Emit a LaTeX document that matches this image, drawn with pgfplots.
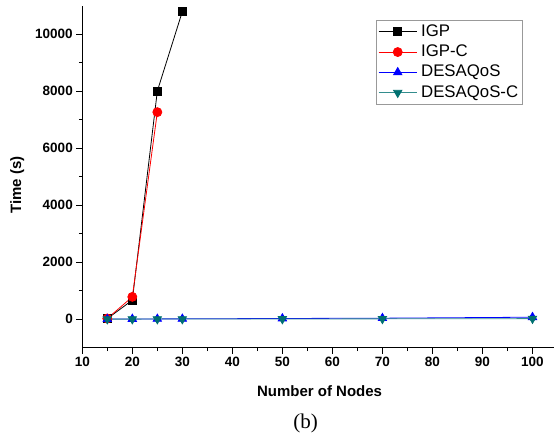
\documentclass[border=0pt]{standalone}
\usepackage{fontspec}
\setmainfont{Liberation Sans}
\newfontfamily\capfont{Liberation Serif}
\usepackage{pgfplots}
\pgfplotsset{compat=1.18}

\definecolor{igpc}{RGB}{255,0,0}
\definecolor{desa}{RGB}{0,0,255}
\definecolor{desac}{RGB}{0,112,112}

\begin{document}
\begin{tikzpicture}
\path[use as bounding box] (0pt,0pt) rectangle (554pt,438pt);
\begin{axis}[
  at={(82.3pt,90.3pt)}, anchor=south west,
  scale only axis, width=471.7pt, height=342pt,
  xmin=10, xmax=104.3, ymin=-1000, ymax=11000,
  axis x line*=bottom, axis y line*=left,
  axis line style={line width=1pt, -},
  every tick/.style={line width=1pt, black},
  tick align=outside,
  major tick length=6pt, minor tick length=3.5pt,
  xtick={10,20,...,100}, ytick={0,2000,...,10000},
  minor x tick num=1, minor y tick num=1,
  scaled y ticks=false,
  /pgf/number format/assume math mode=true,
  /pgf/number format/set thousands separator={},
  tick label style={font=\fontsize{13.5}{13.5}\selectfont\bfseries},
  xlabel={Number of Nodes}, ylabel={Time (s)},
  xlabel style={font=\fontsize{15}{15}\selectfont\bfseries, at={(axis description cs:0.503,-0.1257)}, anchor=center},
  ylabel style={font=\fontsize{15}{15}\selectfont\bfseries, at={(axis description cs:-0.1378,0.476)}, anchor=center},
  legend image code/.code={\draw[mark repeat=2, mark phase=2, #1] plot coordinates {(0pt,0pt) (19pt,0pt) (38pt,0pt)};},
  legend cell align=left,
  legend style={at={(axis description cs:0.6227,0.958)}, anchor=north west,
    draw=gray!80, line width=0.6pt, inner xsep=2pt, inner ysep=2pt,
    font=\fontsize{16.8}{16.8}\selectfont, row sep=1.5pt, column sep=2pt,
    nodes={inner sep=2pt, text height=11.8pt, text depth=3pt}},
  clip=false,
]
\addplot[black, line width=0.8pt, mark=square*, mark size=4pt] coordinates {
  (15,20) (20,667) (25,8005) (30,10795)};
\addlegendentry{IGP}
\addplot[igpc, line width=0.8pt, mark=*, mark size=4.5pt] coordinates {
  (15,25) (20,783) (25,7265)};
\addlegendentry{IGP-C}
\addplot[desa, line width=0.8pt, mark=triangle*, mark size=4.8pt] coordinates {
  (15,5) (20,8) (25,10) (30,12) (50,25) (70,35) (100,70)};
\addlegendentry{DESAQoS}
\addplot[desac!80, line width=0.8pt, mark=triangle*, mark size=4.8pt,
  mark options={rotate=180, fill=desac, draw=desac}] coordinates {
  (15,2) (20,3) (25,4) (30,5) (50,8) (70,12) (100,20)};
\addlegendentry{DESAQoS-C}
\end{axis}
\node[font=\capfont\fontsize{21}{21}\selectfont] at (305.7pt,15pt) {(b)};
\end{tikzpicture}
\end{document}
